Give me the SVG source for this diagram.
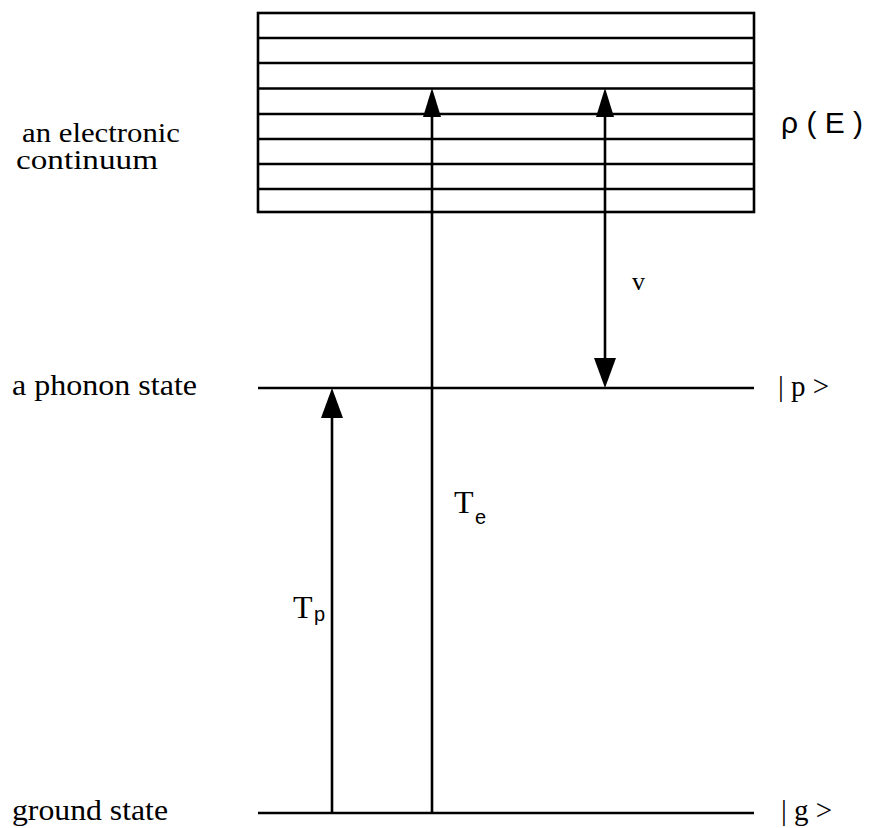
<svg xmlns="http://www.w3.org/2000/svg" width="874" height="828" viewBox="0 0 874 828">
<style>
.ln{stroke:#000;stroke-width:2.6;fill:none}
.serif{font-family:"Liberation Serif","Times New Roman",serif;fill:#000}
.sans{font-family:"Liberation Sans",Arial,sans-serif;fill:#000}
.head{fill:#000;stroke:none}
</style>
<rect width="874" height="828" fill="#fff"/>
<g id="continuum">
<rect x="258" y="13" width="496" height="199" class="ln" stroke-width="3"/>
<path class="ln" d="M258 38H754M258 63H754M258 88.5H754M258 114H754M258 139H754M258 164H754M258 189H754"/>
<text class="serif" x="22" y="142" font-size="27" textLength="158" lengthAdjust="spacingAndGlyphs">an electronic</text>
<text class="serif" x="16" y="169" font-size="27" textLength="142" lengthAdjust="spacingAndGlyphs">continuum</text>
<text class="sans" x="781" y="133" font-size="30">ρ ( E )</text>
</g>
<g id="phonon">
<path class="ln" d="M258 388H754"/>
<text class="serif" x="12" y="395" font-size="29" textLength="185" lengthAdjust="spacingAndGlyphs">a phonon state</text>
<text class="serif" x="778" y="396" font-size="29">| p &gt;</text>
</g>
<g id="ground">
<path class="ln" d="M258 813H754"/>
<text class="serif" x="12" y="820" font-size="29" textLength="156" lengthAdjust="spacingAndGlyphs">ground state</text>
<text class="serif" x="781" y="820" font-size="29">| g &gt;</text>
</g>
<g id="connectors">
<path class="ln" d="M332 418V813"/>
<polygon class="head" points="332,388 321,418 343,418"/>
<path class="ln" d="M432 116V813"/>
<polygon class="head" points="432,88 423,117 441,117"/>
<path class="ln" d="M605 116V360"/>
<polygon class="head" points="605,88 596,117 614,117"/>
<polygon class="head" points="605,388 594,358 616,358"/>
<text class="serif" x="293" y="618" font-size="32">T</text>
<text class="sans" x="314" y="621" font-size="20">p</text>
<text class="serif" x="454" y="513" font-size="32">T</text>
<text class="sans" x="475" y="524" font-size="20">e</text>
<text class="serif" x="632" y="290" font-size="26">v</text>
</g>
</svg>
